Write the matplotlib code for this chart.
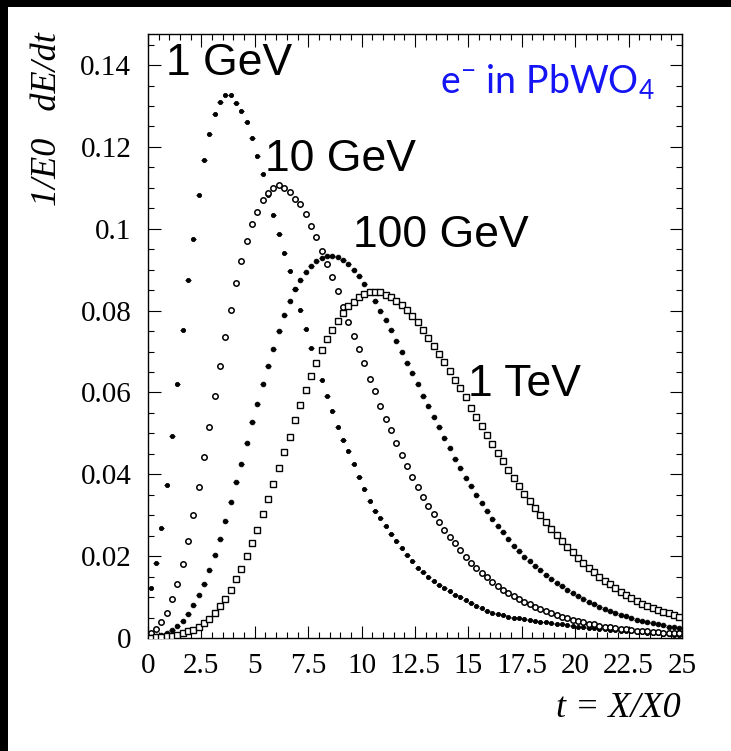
import numpy as np
import matplotlib
matplotlib.use("Agg")
import matplotlib.pyplot as plt
from matplotlib.ticker import FixedLocator, MultipleLocator, FixedFormatter
from matplotlib.patches import Rectangle

# Longitudinal shower profiles of electrons in PbWO4 (100 bins of 0.25 X0)
t_lo, t_hi, n_bins = 0.0, 25.0, 100

e_1gev = [
    0.0122, 0.0183, 0.0269, 0.0374, 0.0494, 0.0620, 0.0752, 0.0874, 0.0976, 0.1082,
    0.1168, 0.1232, 0.1280, 0.1311, 0.1326, 0.1326, 0.1308, 0.1289, 0.1260, 0.1223,
    0.1179, 0.1133, 0.1083, 0.1033, 0.0988, 0.0941, 0.0897, 0.0852, 0.0801, 0.0755,
    0.0708, 0.0671, 0.0630, 0.0592, 0.0554, 0.0515, 0.0485, 0.0456, 0.0425, 0.0394,
    0.0365, 0.0336, 0.0311, 0.0293, 0.0274, 0.0254, 0.0238, 0.0221, 0.0204, 0.0187,
    0.0172, 0.0161, 0.0149, 0.0139, 0.0130, 0.0121, 0.0114, 0.0106, 0.0099, 0.0092,
    0.0086, 0.0079, 0.0073, 0.0067, 0.0062, 0.0058, 0.0055, 0.0052, 0.0050, 0.0048,
    0.0046, 0.0044, 0.0042, 0.0040, 0.0038, 0.0036, 0.0035, 0.0033, 0.0031, 0.0030,
    0.0028, 0.0027, 0.0025, 0.0024, 0.0023, 0.0021, 0.0020, 0.0019, 0.0018, 0.0017,
    0.0016, 0.0015, 0.0014, 0.0013, 0.0012, 0.0011, 0.0010, 0.0009, 0.0008, 0.0007,
]

e_10gev = [
    0.0012, 0.0023, 0.0039, 0.0061, 0.0095, 0.0133, 0.0182, 0.0236, 0.0300, 0.0368,
    0.0443, 0.0516, 0.0592, 0.0664, 0.0735, 0.0801, 0.0868, 0.0921, 0.0971, 0.1011,
    0.1042, 0.1070, 0.1087, 0.1100, 0.1106, 0.1099, 0.1091, 0.1074, 0.1060, 0.1036,
    0.1007, 0.0979, 0.0946, 0.0915, 0.0882, 0.0848, 0.0810, 0.0773, 0.0738, 0.0706,
    0.0673, 0.0633, 0.0603, 0.0567, 0.0534, 0.0508, 0.0477, 0.0448, 0.0420, 0.0394,
    0.0368, 0.0345, 0.0322, 0.0302, 0.0284, 0.0263, 0.0247, 0.0231, 0.0214, 0.0198,
    0.0184, 0.0170, 0.0159, 0.0148, 0.0137, 0.0127, 0.0118, 0.0110, 0.0102, 0.0095,
    0.0088, 0.0082, 0.0076, 0.0070, 0.0065, 0.0060, 0.0056, 0.0052, 0.0048, 0.0045,
    0.0041, 0.0038, 0.0035, 0.0033, 0.0030, 0.0028, 0.0026, 0.0024, 0.0022, 0.0021,
    0.0019, 0.0018, 0.0017, 0.0016, 0.0015, 0.0014, 0.0013, 0.0012, 0.0011, 0.0011,
]

e_100gev = [
    0.0002, 0.0004, 0.0007, 0.0012, 0.0019, 0.0029, 0.0041, 0.0059, 0.0080, 0.0105,
    0.0133, 0.0166, 0.0203, 0.0243, 0.0286, 0.0333, 0.0380, 0.0426, 0.0477, 0.0527,
    0.0573, 0.0620, 0.0665, 0.0707, 0.0749, 0.0789, 0.0823, 0.0853, 0.0876, 0.0894,
    0.0909, 0.0921, 0.0929, 0.0933, 0.0933, 0.0930, 0.0924, 0.0914, 0.0900, 0.0884,
    0.0866, 0.0846, 0.0823, 0.0800, 0.0777, 0.0752, 0.0727, 0.0700, 0.0672, 0.0648,
    0.0620, 0.0592, 0.0566, 0.0540, 0.0515, 0.0488, 0.0464, 0.0438, 0.0415, 0.0392,
    0.0371, 0.0350, 0.0329, 0.0310, 0.0292, 0.0274, 0.0258, 0.0241, 0.0226, 0.0212,
    0.0199, 0.0187, 0.0176, 0.0165, 0.0155, 0.0145, 0.0135, 0.0126, 0.0117, 0.0109,
    0.0102, 0.0095, 0.0088, 0.0082, 0.0076, 0.0071, 0.0066, 0.0061, 0.0057, 0.0053,
    0.0049, 0.0045, 0.0042, 0.0039, 0.0036, 0.0033, 0.0031, 0.0028, 0.0026, 0.0024,
]

e_1tev = [
    0.0001, 0.0002, 0.0003, 0.0004, 0.0005, 0.0007, 0.0011, 0.0016, 0.0020, 0.0027,
    0.0037, 0.0047, 0.0061, 0.0078, 0.0096, 0.0118, 0.0143, 0.0168, 0.0200, 0.0231,
    0.0264, 0.0302, 0.0340, 0.0377, 0.0416, 0.0455, 0.0492, 0.0532, 0.0569, 0.0605,
    0.0641, 0.0671, 0.0703, 0.0730, 0.0752, 0.0775, 0.0793, 0.0811, 0.0822, 0.0833,
    0.0841, 0.0846, 0.0846, 0.0846, 0.0839, 0.0833, 0.0824, 0.0813, 0.0801, 0.0787,
    0.0771, 0.0752, 0.0734, 0.0714, 0.0694, 0.0674, 0.0653, 0.0631, 0.0610, 0.0588,
    0.0563, 0.0540, 0.0517, 0.0496, 0.0475, 0.0453, 0.0432, 0.0410, 0.0390, 0.0371,
    0.0352, 0.0335, 0.0318, 0.0300, 0.0284, 0.0267, 0.0251, 0.0236, 0.0222, 0.0209,
    0.0196, 0.0183, 0.0172, 0.0161, 0.0149, 0.0139, 0.0131, 0.0121, 0.0112, 0.0104,
    0.0098, 0.0090, 0.0084, 0.0079, 0.0073, 0.0068, 0.0064, 0.0060, 0.0055, 0.0052,
]

x_ticks = [0, 2.5, 5, 7.5, 10, 12.5, 15, 17.5, 20, 22.5, 25]
x_tick_labels = ["0", "2.5", "5", "7.5", "10", "12.5", "15", "17.5", "20", "22.5", "25"]
y_ticks = [0, 0.02, 0.04, 0.06, 0.08, 0.10, 0.12, 0.14]
y_tick_labels = ["0", "0.02", "0.04", "0.06", "0.08", "0.1", "0.12", "0.14"]

energy_labels = ["1 GeV", "10 GeV", "100 GeV", "1 TeV"]

# ---------------------------------------------------------------------------
W, H = 731, 751
SERIF = "Liberation Serif"
SANS = "Liberation Sans"

edges = np.linspace(t_lo, t_hi, n_bins + 1)
centers = 0.5 * (edges[:-1] + edges[1:])
half_width = 0.5 * (edges[1] - edges[0])

fig = plt.figure(figsize=(W / 100, H / 100), dpi=100)
fig.patch.set_facecolor("white")


def fx(px):
    return px / W


def fy(py):
    return 1 - py / H


# dark strips along the top and left edges of the canvas
fig.patches.append(Rectangle((0, fy(7)), 1, 7 / H, transform=fig.transFigure,
                             facecolor="black", edgecolor="none", zorder=10))
fig.patches.append(Rectangle((0, 0), 8 / W, 1, transform=fig.transFigure,
                             facecolor="black", edgecolor="none", zorder=10))

ax = fig.add_axes([fx(148), fy(638), (682 - 148) / W, (638 - 34) / H])
ax.set_xlim(t_lo, t_hi)
ax.set_ylim(0, 0.1476)

styles = [
    dict(marker="o", ms=3.0, mfc="black", mec="black", mew=0.6),
    dict(marker="o", ms=3.9, mfc="white", mec="black", mew=1.1),
    dict(marker="o", ms=3.4, mfc="black", mec="black", mew=0.6),
    dict(marker="s", ms=4.1, mfc="white", mec="black", mew=1.0),
]
for vals, st in zip([e_1gev, e_10gev, e_100gev, e_1tev], styles):
    ax.errorbar(centers, vals, xerr=half_width, fmt="none", ecolor="black",
                elinewidth=0.8, capsize=0, zorder=2)
    ax.plot(centers, vals, linestyle="none", zorder=3, **st)

for sp in ax.spines.values():
    sp.set_linewidth(1.0)
    sp.set_color("black")

ax.xaxis.set_major_locator(FixedLocator(x_ticks))
ax.xaxis.set_major_formatter(FixedFormatter(x_tick_labels))
ax.xaxis.set_minor_locator(MultipleLocator(0.5))
ax.yaxis.set_major_locator(FixedLocator(y_ticks))
ax.yaxis.set_major_formatter(FixedFormatter(y_tick_labels))
ax.yaxis.set_minor_locator(MultipleLocator(0.005))

ax.tick_params(which="both", direction="in", top=True, right=True, width=0.8,
               colors="black")
ax.tick_params(which="major", length=9)
ax.tick_params(which="minor", length=4.5)
ax.tick_params(axis="y", which="major", pad=12, labelsize=21)
ax.tick_params(axis="x", which="major", pad=11, labelsize=21)
for lab in ax.get_xticklabels() + ax.get_yticklabels():
    lab.set_fontfamily(SERIF)

fig.text(fx(47), fy(32), "1/E0   dE/dt", rotation=90, ha="center", va="top",
         fontsize=26, fontstyle="italic", family=SERIF)
fig.text(fx(681), fy(717), "t = X/X0", ha="right", va="baseline",
         fontsize=26, fontstyle="italic", family=SERIF)

label_pos = [(166, 75), (265, 171), (353, 247), (468, 396)]
for txt, (px, py) in zip(energy_labels, label_pos):
    fig.text(fx(px), fy(py), txt, ha="left", va="baseline", fontsize=32,
             family=SANS, color="black")

plt.rcParams["mathtext.default"] = "regular"
fig.text(fx(655), fy(93), r"e$^{-}$ in PbWO$_{4}$", ha="right", va="baseline",
         fontsize=27, family="Lato", color="#1414f5")

fig.savefig("out.png", dpi=100, facecolor="white")
